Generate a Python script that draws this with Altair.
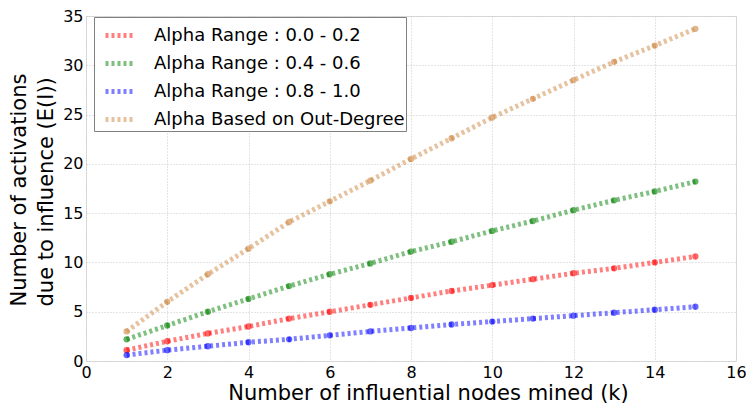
import altair as alt
import pandas as pd

k = list(range(1, 16))
series_names = [
    "Alpha Range : 0.0 - 0.2",
    "Alpha Range : 0.4 - 0.6",
    "Alpha Range : 0.8 - 1.0",
    "Alpha Based on Out-Degree",
]
red_vals = [1.1, 2.0, 2.8, 3.5, 4.3, 5.0, 5.7, 6.4, 7.1, 7.7, 8.3, 8.9, 9.4, 10.0, 10.6]
green_vals = [2.2, 3.6, 5.0, 6.3, 7.6, 8.8, 9.9, 11.1, 12.1, 13.2, 14.2, 15.3, 16.3, 17.2, 18.2]
blue_vals = [0.6, 1.1, 1.5, 1.9, 2.2, 2.6, 3.0, 3.35, 3.7, 4.0, 4.3, 4.6, 4.9, 5.2, 5.5]
orange_vals = [3.0, 6.0, 8.8, 11.4, 14.1, 16.2, 18.3, 20.5, 22.6, 24.7, 26.6, 28.5, 30.35, 32.0, 33.7]
colors = ["#ff0000", "#008000", "#0000ff", "#cd853f"]

rows = []
for name, vals in zip(series_names, [red_vals, green_vals, blue_vals, orange_vals]):
    for kk, v in zip(k, vals):
        rows.append({"k": kk, "value": v, "series": name})
df = pd.DataFrame(rows)

FONT = "DejaVu Sans"
W, H = 650, 345

x = alt.X(
    "k:Q",
    scale=alt.Scale(domain=[0, 16], nice=False),
    axis=alt.Axis(
        values=list(range(0, 17, 2)),
        title="Number of influential nodes mined (k)",
        titleFontSize=21,
        titleFontWeight="normal",
        titleFont=FONT,
        titleColor="black",
        titlePadding=2,
        titleX=342,
        labelFontSize=16,
        labelFont=FONT,
        labelColor="black",
        labelPadding=3,
        labelFlush=False,
        ticks=False,
        domain=False,
        gridColor="#c8c8c8",
        gridDash=[1, 2],
    ),
)
y = alt.Y(
    "value:Q",
    scale=alt.Scale(domain=[0, 35], nice=False),
    axis=alt.Axis(
        values=list(range(0, 36, 5)),
        title=["Number of activations", "due to influence (E(I))"],
        titleFontSize=21,
        titleFontWeight="normal",
        titleFont=FONT,
        titleColor="black",
        titlePadding=6,
        titleLineHeight=27,
        titleAlign="left",
        titleY=290,
        labelFontSize=16,
        labelFont=FONT,
        labelColor="black",
        labelPadding=3,
        labelFlush=False,
        ticks=False,
        domain=False,
        gridColor="#c8c8c8",
        gridDash=[1, 2],
    ),
)
color_scale = alt.Scale(domain=series_names, range=colors)

lines = alt.Chart(df).mark_line(
    strokeWidth=5, strokeDash=[3, 3], opacity=0.5, strokeCap="butt"
).encode(
    x=x,
    y=y,
    color=alt.Color(
        "series:N",
        scale=color_scale,
        sort=series_names,
        legend=alt.Legend(
            title=None,
            orient="none",
            legendX=8,
            legendY=1,
            symbolType="stroke",
            symbolStrokeWidth=5,
            symbolDash=[3, 3],
            symbolSize=900,
            symbolOpacity=0.5,
            symbolOffset=8,
            labelFontSize=18,
            labelFont=FONT,
            labelColor="black",
            labelOffset=16,
            labelLimit=400,
            rowPadding=-7,
            padding=1,
            strokeColor="#808080",
            fillColor="white",
            cornerRadius=0,
        ),
    ),
    detail="series:N",
)

points = alt.Chart(df).mark_circle(size=40, opacity=0.6).encode(
    x=x,
    y=y,
    color=alt.Color("series:N", scale=color_scale, sort=series_names, legend=None),
)

chart = alt.layer(lines, points).properties(
    width=W,
    height=H,
    autosize=alt.AutoSizeParams(type="none"),
    padding={"left": 78, "top": 8, "right": 10, "bottom": 42},
).configure_view(stroke="#808080", strokeWidth=1.5).configure(background="white")

chart.save("out.html", embed_options={"renderer": "svg", "actions": False})
